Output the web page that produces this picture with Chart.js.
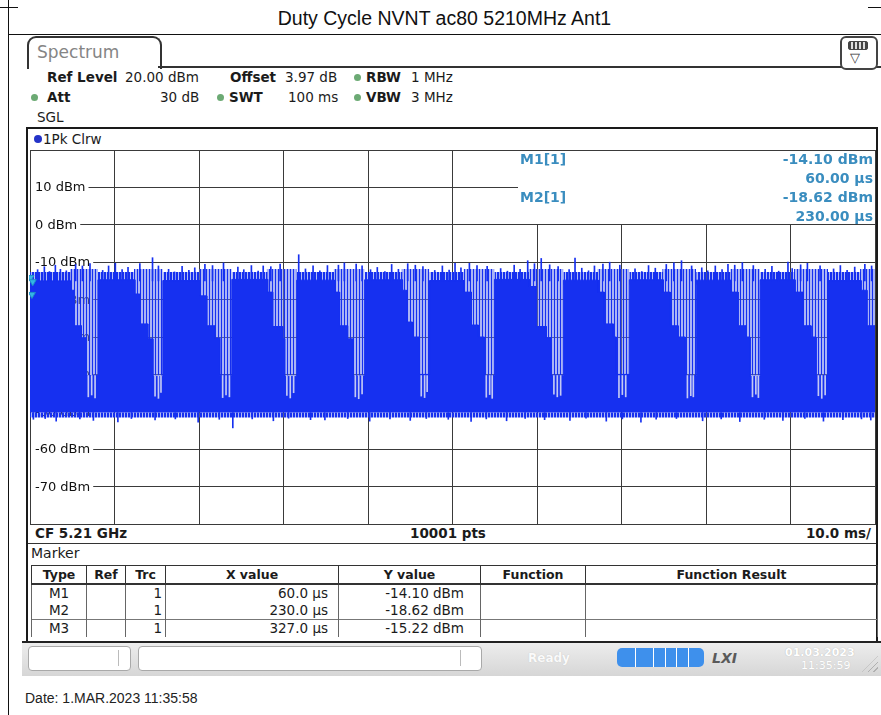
<!DOCTYPE html>
<html>
<head>
<meta charset="utf-8">
<title>Duty Cycle NVNT ac80 5210MHz Ant1</title>
<script src="https://cdn.jsdelivr.net/npm/chart.js@4.4.1/dist/chart.umd.min.js"></script>
<style>
  html, body { margin: 0; padding: 0; background: #fff; }
  body { position: relative; width: 881px; height: 715px; overflow: hidden; font-family: "DejaVu Sans", sans-serif; color: #1b1b1b; }
  .ln { position: absolute; background: #111; }
  .t { position: absolute; white-space: nowrap; line-height: 16px; font-size: 13.5px; }
  .b { font-weight: bold; }
  .dot { position: absolute; width: 7px; height: 7px; border-radius: 50%; background: #6caa74; }
  .mk { position: absolute; white-space: nowrap; line-height: 18px; font-size: 14px; font-weight: bold; color: #3a8dbf; }
  #plot { position: absolute; left: 29px; top: 149px; }
  #mtab { position: absolute; left: 31px; top: 565px; width: 846px; border-collapse: collapse; table-layout: fixed; font-size: 13.5px; }
  #mtab th { height: 17px; padding: 0; font-weight: bold; font-size: 12.5px; border: 1px solid #333; border-bottom: 2px solid #333; text-align: center; }
  #mtab td { height: 17px; padding: 0; border-left: 1px solid #666; border-right: 1px solid #666; line-height: 17px; }
  #mtab tr.sep td { border-top: 1px solid #777; }
</style>
</head>
<body>

<!-- page frame and title -->
<div class="ln" style="left:8px;top:0;width:1px;height:715px;"></div>
<div class="ln" style="left:0;top:7px;width:18px;height:1px;"></div>
<div class="ln" style="left:868px;top:7px;width:13px;height:1px;"></div>
<div class="ln" style="left:8px;top:34px;width:873px;height:1px;"></div>
<div style="position:absolute;left:8px;width:873px;top:6px;line-height:24px;text-align:center;font-family:'Liberation Sans',Arial,sans-serif;font-size:19.5px;color:#111;">Duty Cycle NVNT ac80 5210MHz Ant1</div>

<!-- instrument tab + settings -->
<div style="position:absolute;left:27px;top:36px;width:131px;height:31px;border:2px solid #333;border-bottom:none;border-radius:9px 9px 0 0;"></div>
<div class="t" style="left:37px;top:43px;font-size:17px;line-height:18px;color:#858585;">Spectrum</div>
<div class="ln" style="left:158px;top:66px;width:723px;height:2px;background:#333;"></div>
<div style="position:absolute;left:840px;top:36px;width:34px;height:30px;border:2px solid #444;border-radius:6px;background:#fff;"></div>
<div style="position:absolute;left:848px;top:41px;width:18px;height:7px;border:1px solid #444;border-radius:2px;background:repeating-linear-gradient(90deg,#444 0 2px,#ddd 2px 4px);"></div>
<div class="t" style="left:850px;top:50px;font-size:13px;color:#333;">▽</div>

<div class="t b" style="left:47px;top:69px;">Ref Level</div>
<div class="t" style="left:125px;top:69px;">20.00 dBm</div>
<div class="t b" style="left:230px;top:69px;">Offset</div>
<div class="t" style="left:285px;top:69px;">3.97 dB</div>
<div class="dot" style="left:354px;top:74px;"></div>
<div class="t b" style="left:366px;top:69px;">RBW</div>
<div class="t" style="left:411px;top:69px;">1 MHz</div>

<div class="dot" style="left:31px;top:94px;"></div>
<div class="t b" style="left:47px;top:89px;">Att</div>
<div class="t" style="left:160px;top:89px;">30 dB</div>
<div class="dot" style="left:217px;top:94px;"></div>
<div class="t b" style="left:229px;top:89px;">SWT</div>
<div class="t" style="left:288px;top:89px;">100 ms</div>
<div class="dot" style="left:354px;top:94px;"></div>
<div class="t b" style="left:366px;top:89px;">VBW</div>
<div class="t" style="left:411px;top:89px;">3 MHz</div>

<div class="t" style="left:37px;top:109px;">SGL</div>

<!-- diagram frame -->
<div style="position:absolute;left:26px;top:127px;width:848px;height:514px;border:2px solid #1a1a1a;border-bottom:none;"></div>
<div style="position:absolute;left:34px;top:135px;width:8px;height:8px;border-radius:50%;background:#2433c8;"></div>
<div class="t" style="left:43px;top:131px;">1Pk Clrw</div>

<canvas id="plot" width="847" height="376"></canvas>

<!-- marker readout box in the plot -->
<div style="position:absolute;left:518px;top:151px;width:357px;height:73px;background:#fff;"></div>
<div id="mkbox"></div>

<div class="t b" style="left:35px;top:525px;">CF 5.21 GHz</div>
<div class="t b" style="left:380px;width:136px;top:525px;text-align:center;">10001 pts</div>
<div class="t b" style="left:760px;width:111px;top:525px;text-align:right;">10.0 ms/</div>
<div class="ln" style="left:28px;top:543px;width:848px;height:1px;background:#333;"></div>

<!-- marker table -->
<div class="t" style="left:31px;top:545px;font-size:14px;">Marker</div>
<table id="mtab">
  <colgroup><col style="width:55px"><col style="width:39px"><col style="width:40px"><col style="width:173px"><col style="width:142px"><col style="width:105px"><col style="width:292px"></colgroup>
  <thead><tr><th>Type</th><th>Ref</th><th>Trc</th><th>X value</th><th>Y value</th><th>Function</th><th>Function Result</th></tr></thead>
  <tbody id="mrows"></tbody>
</table>

<!-- status bar -->
<div style="position:absolute;left:22px;top:641px;width:859px;height:33px;border-top:2px solid #222;background:linear-gradient(#ededed,#d6d6d6);"></div>
<div style="position:absolute;left:28px;top:646px;width:101px;height:23px;background:#fff;border:1px solid #a9a9a9;border-radius:4px;"></div>
<div class="ln" style="left:118px;top:650px;width:1px;height:16px;background:#bbb;"></div>
<div style="position:absolute;left:138px;top:646px;width:342px;height:23px;background:#fff;border:1px solid #a9a9a9;border-radius:4px;"></div>
<div class="ln" style="left:460px;top:650px;width:1px;height:16px;background:#bbb;"></div>
<div class="t b" style="left:528px;top:650px;font-size:12px;color:#fafafa;text-shadow:0 0 1px #bbb;">Ready</div>
<div style="position:absolute;left:617px;top:648px;width:87px;height:19px;border-radius:5px;background:linear-gradient(90deg,#3e90ec 0 18px,#fff 18px 19px,#3e90ec 19px 36px,#fff 36px 37px,#3e90ec 37px 48px,#fff 48px 49px,#3e90ec 49px 59px,#fff 59px 60px,#3e90ec 60px 71px,#fff 71px 72px,#3e90ec 72px);"></div>
<div class="t b" style="left:712px;top:650px;font-size:14px;font-style:italic;color:#5a5a5a;">LXI</div>
<div class="t b" style="left:785px;top:645px;font-size:11px;color:#fff;text-shadow:0 0 1px #aaa;">01.03.2023</div>
<div class="t" style="left:801px;top:658px;font-size:11px;color:#fff;text-shadow:0 0 1px #bbb;">11:35:59</div>
<div style="position:absolute;left:862px;top:656px;width:16px;height:16px;background:repeating-linear-gradient(135deg,transparent 0 3px,#b0b0b0 3px 4px);clip-path:polygon(100% 0,100% 100%,0 100%);"></div>

<div style="position:absolute;left:25px;top:690px;line-height:16px;font-family:'Liberation Sans',Arial,sans-serif;font-size:14px;color:#222;">Date: 1.MAR.2023 11:35:58</div>

<script>
// trace: time in ms, level in dBm
// each period = a burst, then an off-time where the top of the trace falls in steps
const burstStart = [0.00, 8.04, 15.72, 23.88, 31.56, 39.60, 47.28, 54.96, 63.12, 70.92, 78.84, 86.40, 94.44];
const burstTop   = [-15.0, -14.7, -14.9, -14.6, -14.8, -14.7, -14.9, -14.6, -14.8, -14.7, -14.8, -14.7, -14.9];
const tailStart  = [4.85, 12.41, 20.09, 28.13, 36.05, 44.09, 51.42, 59.10, 67.26, 74.94, 82.98, 90.54, 98.35];
const step1End   = [5.20, 13.00, 20.92, 28.72, 36.64, 44.56, 52.25, 59.93, 67.97, 75.77, 83.81, 91.49, 99.05];
const step2End   = [6.09, 13.95, 21.87, 29.91, 37.59, 45.27, 53.07, 61.11, 69.03, 76.71, 84.75, 92.43, 100];
const step3End   = [6.62, 14.54, 22.46, 30.14, 38.18, 46.10, 53.78, 61.70, 69.39, 77.54, 85.22, 93.03, 100];
const step1Lvl   = [-17.5, -18.5, -19.0, -18.0, -18.0, -17.5, -18.0, -16.5, -18.0, -18.0, -18.0, -18.0, -17.5];
const step2Lvl   = [-27.0, -26.5, -27.0, -27.2, -27.0, -26.0, -26.8, -27.2, -26.5, -27.0, -27.0, -27.0, -27.0];
const step3Lvl   = [-30.2, -30.5, -30.3, -30.5, -30.5, -30.0, -30.0, -30.2, -30.0, -30.0, -30.0, -30.0, -30.0];
const tailFloor  = [-40.3, -40.5, -40.2, -40.5, -40.4, -40.0, -40.3, -40.2, -40.0, -40.3, -40.5, -40.3, -40.0];

// rough levels of the ragged edges
const noiseFloor = -50.2;
const floorEdge  = -51.5;
const edgeTop    = -12.6;
const gapTop     = -11.8;

// single tall spikes above the trace
const peakT = [0.9, 1.7, 2.3, 3.0, 3.6, 4.3, 5.4, 6.2, 7.1, 8.6, 9.3, 10.1, 10.9, 11.6, 13.0, 14.5, 15.2,
               16.4, 17.1, 18.0, 18.8, 19.5, 20.7, 21.6, 22.9, 24.6, 25.3, 26.2, 27.0, 27.6, 28.5, 29.6,
               31.8, 32.6, 33.5, 34.3, 35.2, 36.5, 37.2, 38.6, 39.3, 40.3, 41.1, 42.0, 42.8, 43.6, 44.7,
               45.6, 46.5, 47.9, 48.8, 49.6, 50.3, 51.0, 52.0, 52.9, 54.1, 55.7, 56.5, 57.3, 58.0, 58.9,
               59.7, 60.5, 61.5, 62.5, 63.8, 64.5, 65.3, 66.1, 66.8, 67.8, 68.6, 69.8, 71.6, 72.4, 73.2,
               74.0, 75.3, 76.2, 77.1, 78.3, 79.5, 80.2, 81.1, 81.9, 82.6, 83.4, 84.3, 85.6, 87.0, 87.8,
               88.6, 89.7, 90.2, 91.2, 92.0, 93.5, 95.1, 95.9, 96.7, 97.6, 98.8, 99.6];
const peakV = [-12.0, -11.2, -12.5, -10.8, -11.9, -12.3, -10.6, -11.0, -10.4, -12.2, -11.0, -10.3, -12.0, -11.4, -10.4, -8.8, -11.0,
               -11.9, -12.6, -11.1, -12.2, -11.5, -10.6, -10.9, -10.2, -11.3, -12.0, -10.9, -12.4, -11.0, -11.2, -10.5,
               -8.0, -11.8, -11.0, -12.3, -10.9, -10.8, -10.2, -10.5, -11.0, -12.0, -11.4, -12.5, -10.6, -11.9, -10.4,
               -10.8, -11.2, -12.2, -11.0, -12.1, -10.3, -11.5, -10.3, -10.9, -11.1, -11.7, -12.4, -10.8, -11.9, -9.6,
               -10.4, -9.0, -10.7, -11.2, -12.0, -8.9, -11.6, -12.3, -11.0, -10.5, -10.0, -10.8, -11.8, -12.5, -10.9,
               -11.6, -10.6, -10.2, -9.6, -11.0, -11.5, -12.3, -11.0, -12.0, -10.6, -10.8, -10.1, -10.9, -11.9, -11.1,
               -12.4, -10.0, -11.7, -10.7, -10.3, -11.0, -11.8, -10.9, -12.2, -11.3, -10.6, -11.0];

// short dips below the noise floor
const dipT = [0.4, 1.8, 3.1, 5.9, 7.5, 10.4, 12.0, 14.8, 17.2, 19.9, 22.4, 24.0, 26.3, 28.8, 30.6, 33.2, 34.9,
              37.6, 40.2, 42.6, 45.0, 46.9, 49.5, 52.2, 54.0, 56.4, 58.6, 60.9, 63.9, 65.8, 68.2, 70.1, 72.3,
              74.1, 76.5, 79.6, 81.8, 84.0, 86.9, 89.1, 91.7, 93.9, 96.2, 98.4, 99.5];
const dipV = [-52.0, -51.8, -52.5, -51.9, -52.3, -52.7, -51.8, -52.2, -51.9, -52.8, -52.0, -54.3, -51.9, -52.4, -51.7, -52.1, -52.2,
              -51.8, -52.5, -51.9, -52.3, -51.8, -52.0, -52.6, -51.9, -52.4, -51.8, -52.1, -52.3, -51.7, -52.5, -51.9, -52.8,
              -52.0, -51.8, -52.4, -51.9, -52.6, -52.0, -52.3, -51.8, -52.5, -52.1, -51.9, -52.2];

// thin gaps reaching down into the floor of each off-time
const notchT = [6.9, 7.3, 7.7, 14.8, 15.2, 15.5, 22.8, 23.2, 23.6, 30.4, 30.8, 31.2, 38.5, 38.9, 39.3,
                46.3, 46.7, 47.0, 54.0, 54.4, 54.7, 62.0, 62.4, 62.8, 69.7, 70.1, 70.5, 77.8, 78.2, 78.5,
                85.5, 85.9, 86.2, 93.3, 93.7, 94.1];
const notchV = [-46.0, -45.5, -46.3, -45.8, -46.4, -44.8, -46.2, -45.5, -46.0, -45.6, -46.3, -44.9, -46.0, -46.5, -45.2,
                -45.8, -46.2, -44.6, -46.1, -45.4, -46.4, -45.3, -46.0, -45.6, -46.2, -45.4, -46.0, -46.3, -45.7, -46.0,
                -46.0, -45.3, -46.2, -45.7, -46.4, -45.5];

const markerName = ['M1', 'M2', 'M3'];
const markerT = [0.060, 0.230, 0.327];
const markerV = [-14.10, -18.62, -15.22];

const yTickValues = [10, 0, -10, -20, -30, -40, -50, -60, -70];

const TRACE_BLUE = '#1630f0';

// stripes: n solid columns out of every 3 px, the rest light see-through
function stripePattern(ctx, solidCols, light) {
    var c = document.createElement('canvas');
    c.width = 3;
    c.height = 1;
    var g = c.getContext('2d');
    g.fillStyle = light;
    g.fillRect(0, 0, 3, 1);
    g.fillStyle = TRACE_BLUE;
    g.fillRect(0, 0, solidCols, 1);
    return ctx.createPattern(c, 'repeat');
}

// build the envelope (explicit steps) and the band outlines
var envelope = [];
var edgeBand = [];
var gapBand  = [];
burstStart.forEach(function (t0, i) {
    var gapEnd = i + 1 < burstStart.length ? burstStart[i + 1] : 100;
    envelope.push(
        { x: t0, y: burstTop[i] }, { x: tailStart[i], y: burstTop[i] },
        { x: tailStart[i], y: step1Lvl[i] }, { x: step1End[i], y: step1Lvl[i] },
        { x: step1End[i], y: step2Lvl[i] }, { x: step2End[i], y: step2Lvl[i] },
        { x: step2End[i], y: step3Lvl[i] }, { x: step3End[i], y: step3Lvl[i] },
        { x: step3End[i], y: tailFloor[i] }, { x: gapEnd, y: tailFloor[i] }
    );

    edgeBand.push({ x: t0, y: edgeTop }, { x: tailStart[i], y: edgeTop }, { x: tailStart[i] + 0.01, y: null });
    gapBand.push({ x: tailStart[i] - 0.12, y: gapTop }, { x: gapEnd, y: gapTop }, { x: gapEnd + 0.01, y: null });
});

var peaks   = peakT.map(function (t, i) { return { x: t, y: [burstTop[0], peakV[i]] }; });
var dips    = dipT.map(function (t, i) { return { x: t, y: [dipV[i], noiseFloor] }; });
var notches = notchT.map(function (t, i) { return { x: t, y: [notchV[i], tailFloor[0]] }; });
var markers = markerT.map(function (t, i) { return { x: t, y: markerV[i] }; });

// dBm labels sit inside the grid, under the trace
var dbmLabels = {
    id: 'dbmLabels',
    beforeDatasetsDraw: function (chart) {
        var ctx = chart.ctx;
        var area = chart.chartArea;
        var y = chart.scales.y;
        ctx.save();
        ctx.font = '13px "DejaVu Sans"';
        ctx.textBaseline = 'middle';
        yTickValues.forEach(function (v) {
            var txt = v + ' dBm';
            var py = Math.round(y.getPixelForValue(v));
            var w = ctx.measureText(txt).width;
            ctx.fillStyle = '#fff';
            ctx.fillRect(area.left + 1, py - 7, w + 7, 14);
            ctx.fillStyle = '#111';
            ctx.fillText(txt, area.left + 5, py + 0.5);
        });
        ctx.restore();
    }
};

var canvas = document.getElementById('plot');
var ctx = canvas.getContext('2d');

new Chart(ctx, {
    type: 'line',
    data: {
        datasets: [
            { type: 'line', data: markers, showLine: false, pointStyle: 'triangle', rotation: 180, pointRadius: 4,
              backgroundColor: '#35b4e6', borderColor: '#1e90c8', borderWidth: 1, clip: false, order: 1 },
            { type: 'bar', data: peaks, backgroundColor: TRACE_BLUE, barThickness: 1, grouped: false, order: 2 },
            { type: 'bar', data: dips, backgroundColor: TRACE_BLUE, barThickness: 1, grouped: false, order: 2 },
            { type: 'bar', data: notches, backgroundColor: '#c3c9f4', barThickness: 1, grouped: false, order: 3 },
            { type: 'line', data: envelope, pointRadius: 0, borderColor: TRACE_BLUE, borderWidth: 1,
              backgroundColor: TRACE_BLUE, fill: { value: noiseFloor }, order: 4 },
            { type: 'line', data: edgeBand, pointRadius: 0, borderColor: 'transparent', borderWidth: 1, spanGaps: false,
              backgroundColor: stripePattern(ctx, 2, 'rgba(100,118,236,0.5)'), fill: { value: -16 }, order: 6 },
            { type: 'line', data: gapBand, pointRadius: 0, borderColor: 'transparent', borderWidth: 1, spanGaps: false,
              backgroundColor: stripePattern(ctx, 1, 'rgba(100,118,236,0.55)'), fill: { value: -41 }, order: 6 },
            { type: 'line', data: [{ x: 0, y: noiseFloor }, { x: 100, y: noiseFloor }], pointRadius: 0, borderColor: 'transparent',
              borderWidth: 1, backgroundColor: stripePattern(ctx, 2, 'rgba(100,118,236,0.5)'), fill: { value: floorEdge }, order: 6 }
        ]
    },
    options: {
        responsive: false,
        animation: false,
        events: [],
        layout: { padding: 1, autoPadding: false },
        plugins: { legend: { display: false }, tooltip: { enabled: false } },
        scales: {
            x: {
                type: 'linear', min: 0, max: 100, offset: false,
                ticks: { display: false, stepSize: 10 },
                grid: { color: '#3a3a3a', lineWidth: 1, drawTicks: false, offset: false },
                border: { display: true, color: '#3a3a3a' }
            },
            y: {
                type: 'linear', min: -80, max: 20,
                ticks: { display: false, stepSize: 10 },
                grid: { color: '#3a3a3a', lineWidth: 1, drawTicks: false },
                border: { display: true, color: '#3a3a3a' }
            }
        }
    },
    plugins: [dbmLabels]
});

// marker readout in the plot and in the table
var mkbox = document.getElementById('mkbox');
[0, 1].forEach(function (i) {
    var top = 150 + i * 38;
    mkbox.insertAdjacentHTML('beforeend',
        '<div class="mk" style="left:520px;top:' + top + 'px;">' + markerName[i] + '[1]</div>' +
        '<div class="mk" style="left:640px;width:233px;text-align:right;top:' + top + 'px;">' + markerV[i].toFixed(2) + ' dBm</div>' +
        '<div class="mk" style="left:640px;width:233px;text-align:right;top:' + (top + 19) + 'px;">' + (markerT[i] * 1000).toFixed(2) + ' µs</div>');
});

var rows = document.getElementById('mrows');
markerName.forEach(function (name, i) {
    rows.insertAdjacentHTML('beforeend',
        '<tr' + (i === 2 ? ' class="sep"' : '') + '>' +
        '<td style="text-align:center">' + name + '</td><td></td>' +
        '<td style="text-align:right;padding-right:3px">1</td>' +
        '<td style="text-align:right;padding-right:10px">' + (markerT[i] * 1000).toFixed(1) + ' µs</td>' +
        '<td style="text-align:right;padding-right:16px">' + markerV[i].toFixed(2) + ' dBm</td>' +
        '<td></td><td></td></tr>');
});
</script>
</body>
</html>
